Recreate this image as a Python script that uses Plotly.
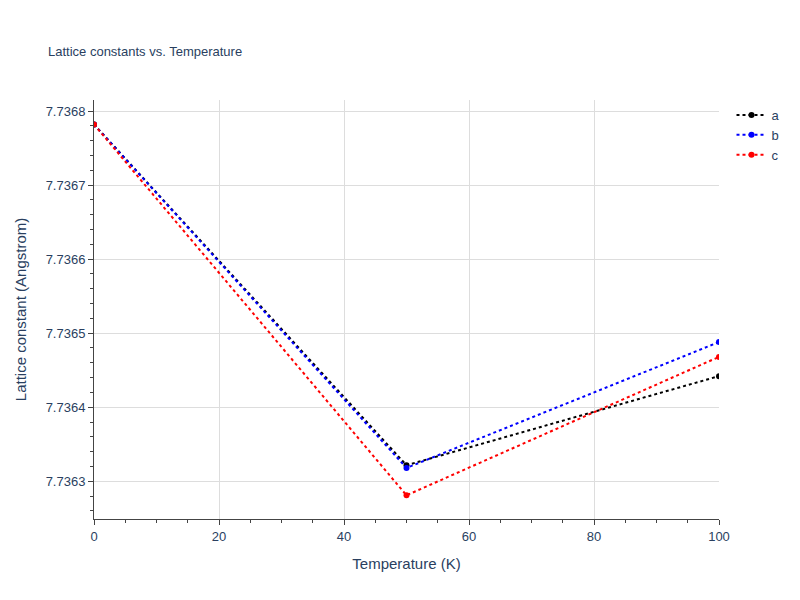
import plotly.graph_objects as go

temps = [0, 50, 100]
a_vals = [7.736782, 7.7363216, 7.736442]
b_vals = [7.736782, 7.736318, 7.736488]
c_vals = [7.736782, 7.736281, 7.736468]

fig = go.Figure()
for name, vals, col in [("a", a_vals, "black"), ("b", b_vals, "blue"), ("c", c_vals, "red")]:
    fig.add_trace(go.Scatter(x=temps, y=vals, name=name, mode="lines+markers",
                             line=dict(color=col, dash="dot", width=2), marker=dict(color=col, size=6)))

fig.update_layout(
    width=800, height=600, template="plotly_white",
    font=dict(family="Arial, Liberation Sans", size=12),
    title=dict(text="Lattice constants vs. Temperature", x=0.05, y=0.935, font=dict(size=13)),
    margin=dict(l=80, r=89, t=92, b=89),
    legend=dict(x=1.02, y=1, font=dict(size=13)),
    xaxis=dict(title=dict(text="Temperature (K)", font=dict(size=15)), range=[0, 100], showline=True, linecolor="#444",
               ticks="outside", minor=dict(ticks="outside", showgrid=False), zeroline=False,
               gridcolor="#ddd", tickfont=dict(size=13)),
    yaxis=dict(title=dict(text="Lattice constant (Angstrom)", font=dict(size=15)), range=[7.736249, 7.736815], showline=True,
               linecolor="#444", ticks="outside", minor=dict(ticks="outside", showgrid=False),
               tickformat=".4f", zeroline=False, gridcolor="#ddd", tickfont=dict(size=13)),
)
fig.write_html("out.html")
